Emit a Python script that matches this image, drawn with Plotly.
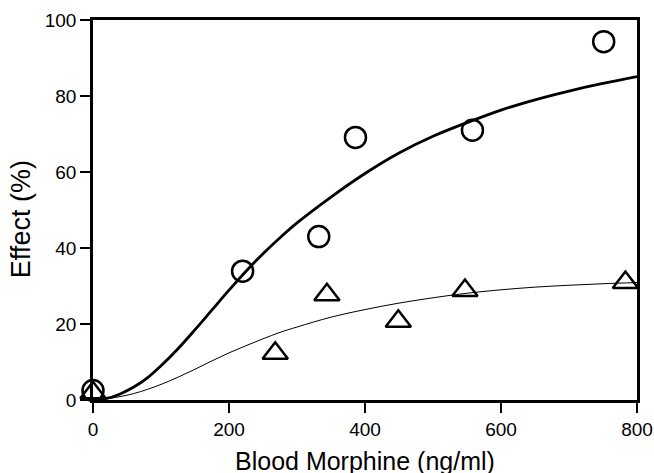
import plotly.graph_objects as go

# Observed data: circles (higher response) and triangles (lower response)
circle_x = [0, 220, 332, 386, 558, 751]
circle_y = [2.5, 33.9, 43.0, 69.1, 71.0, 94.3]

tri_x = [0, 268, 344, 449, 547, 783]
tri_y = [1.9, 12.3, 27.7, 20.7, 28.8, 30.9]

# Fitted curves, points
fit_hi_x = [0, 20, 40, 60, 80, 100, 125, 150, 175, 200, 225, 250, 275, 300, 350, 400, 450, 500, 550, 600, 650, 700, 750, 800]
fit_hi_y = [0, 0.4, 1.6, 3.4, 5.8, 9.0, 13.5, 18.5, 23.7, 28.9, 33.9, 38.5, 42.7, 46.6, 53.4, 59.6, 65.0, 69.4, 73.0, 76.3, 79.0, 81.3, 83.3, 85.1]

fit_lo_x = [0, 20, 40, 60, 80, 100, 125, 150, 175, 200, 225, 250, 275, 300, 350, 400, 450, 500, 550, 600, 650, 700, 750, 800]
fit_lo_y = [0, 0.3, 0.9, 1.7, 2.8, 4.1, 6.0, 8.1, 10.3, 12.4, 14.3, 16.1, 17.8, 19.2, 21.8, 23.8, 25.5, 26.9, 28.1, 29.0, 29.7, 30.2, 30.6, 30.9]

x_ticks = [0, 200, 400, 600, 800]
y_ticks = [0, 20, 40, 60, 80, 100]

x_title = "Blood Morphine (ng/ml)"
y_title = "Effect (%)"

FONT = "Liberation Sans, Arial, sans-serif"

fig = go.Figure()
fig.add_trace(go.Scatter(x=fit_hi_x, y=fit_hi_y, mode="lines",
                         line=dict(color="black", width=2.8, shape="spline", smoothing=1.0),
                         hoverinfo="skip", showlegend=False))
fig.add_trace(go.Scatter(x=fit_lo_x, y=fit_lo_y, mode="lines",
                         line=dict(color="black", width=1.0, shape="spline", smoothing=1.0),
                         hoverinfo="skip", showlegend=False))
fig.add_trace(go.Scatter(x=tri_x, y=tri_y, mode="markers", cliponaxis=False,
                         marker=dict(symbol="triangle-up-open", size=22, color="black",
                                     line=dict(color="black", width=2.5)),
                         showlegend=False))
fig.add_trace(go.Scatter(x=circle_x, y=circle_y, mode="markers", cliponaxis=False,
                         marker=dict(symbol="circle-open", size=21, color="black",
                                     line=dict(color="black", width=2.5)),
                         showlegend=False))

axis_common = dict(showgrid=False, zeroline=False, showline=True, linecolor="black",
                   linewidth=2.5, mirror=True, ticks="outside", ticklen=10, tickwidth=2,
                   tickcolor="black", automargin=False,
                   tickfont=dict(family=FONT, size=19, color="black"))

fig.update_xaxes(range=[0, 800], tickvals=x_ticks, ticktext=[str(v) for v in x_ticks], **axis_common)
fig.update_yaxes(range=[0, 100], tickvals=y_ticks, ticktext=[str(v) for v in y_ticks], **axis_common)

fig.add_annotation(text=x_title, xref="paper", yref="paper", x=0.5, y=0,
                   xanchor="center", yanchor="top", yshift=-45, showarrow=False,
                   font=dict(family=FONT, size=25, color="black"))
fig.add_annotation(text=y_title, xref="paper", yref="paper", x=-0.133, y=0.475,
                   xanchor="center", yanchor="middle", textangle=-90, showarrow=False,
                   font=dict(family=FONT, size=27, color="black"))

fig.update_layout(width=654, height=473, margin=dict(l=93, r=17, t=20, b=73, autoexpand=False),
                  paper_bgcolor="white", plot_bgcolor="white")

fig.write_html("out.html")
